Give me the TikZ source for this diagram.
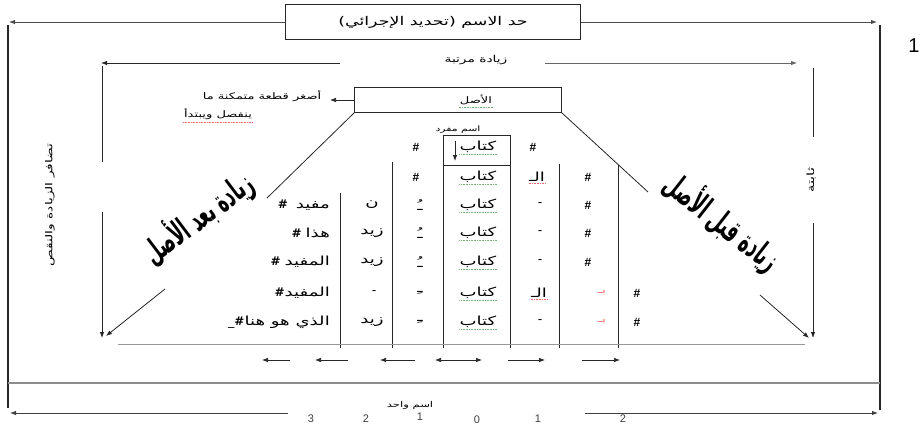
\documentclass[tikz,border=0pt]{standalone}
\usepackage{fontspec}
\setmainfont{Liberation Sans}
\newfontfamily\arabicfont[Script=Arabic]{DejaVu Sans}
\TeXXeTstate=1
\usetikzlibrary{arrows.meta}
\newcommand\AR[1]{\scalebox{1.45}[1]{\arabicfont\beginR #1\endR}}
\newcommand\HS{{\fontsize{12}{12}\selectfont\bfseries\#}}
\tikzset{
  ln/.style={draw=black!85, line width=0.8pt},
  arr/.style={-{Latex[length=6pt,width=4.5pt]}},
  atxt/.style={font=\arabicfont\fontsize{9}{10}\selectfont, inner sep=1pt},
  ctxt/.style={font=\arabicfont\fontsize{12.5}{13}\selectfont, inner sep=0pt},
  hsh/.style={font=\fontsize{12}{12}\selectfont\bfseries, inner sep=0pt},
  num/.style={font=\fontsize{11}{12}\selectfont, text=black!75, inner sep=0pt},
  big/.style={font=\arabicfont\bfseries\fontsize{17}{17}\selectfont, inner sep=0pt},
  redt/.style={font=\arabicfont\fontsize{10}{10}\selectfont, text=red!55, inner sep=0pt},
  gul/.style={append after command={([yshift=-1.2pt]\tikzlastnode.south west) edge[draw=green!45!black!55, densely dotted, line width=0.6pt] ([yshift=-1.2pt]\tikzlastnode.south east)}},
  rul/.style={append after command={([yshift=-1.2pt]\tikzlastnode.south west) edge[draw=red!60, densely dotted, line width=0.6pt] ([yshift=-1.2pt]\tikzlastnode.south east)}}
}
\begin{document}
\begin{tikzpicture}[x=1pt,y=-1pt]
\useasboundingbox (0,0) rectangle (923,431);
\fill[white] (0,0) rectangle (923,431);

% ---- top box and outer frame
\node[draw=black!85, line width=0.8pt, minimum width=295pt, minimum height=35pt, inner sep=0pt,
      font=\arabicfont\fontsize{12}{13}\selectfont] (top) at (433,22)
  {\AR{حد الاسم (تحديد الإجرائي)}};
\coordinate (tl) at (9,22);
\coordinate (tr) at (877,22);
\draw[ln, arr, draw=black!70, line width=1pt] (top.west) -- (tl);
\draw[ln, arr, draw=black!70, line width=1pt] (top.east) -- (tr);
\draw[ln, line width=1.1pt] (8,25) -- (8,408);
\draw[ln, line width=1.1pt] (880,25) -- (880,410);
\node[font=\fontsize{20}{20}\selectfont, inner sep=0pt] (one) at (914,46) {1};

% ---- second level
\node[atxt, font=\arabicfont\fontsize{9.5}{10}\selectfont] (zm) at (476,60) {\AR{زيادة مرتبة}};
\coordinate (zl) at (101,63);
\coordinate (zr) at (797,63);
\draw[ln, arr] (340,63) -- (zl);
\draw[ln, arr, draw=black!60] (545,63) -- (zr);
\draw[ln] (102,66) -- (102,162);
\draw[ln, arr] (102,212) -- (102,338);
\draw[ln] (813,68) -- (813,137);
\draw[ln, arr] (813,223) -- (813,338);
\node[atxt, rotate=90, font=\arabicfont\fontsize{10}{10}\selectfont] (thb) at (811,180) {\AR{ثابتة}};
\node[atxt, rotate=90, font=\arabicfont\fontsize{9.5}{10}\selectfont] (tdf) at (50,205) {\AR{تضافر الزيادة والنقص}};

% ---- asl box
\node[draw=black!85, line width=0.8pt, minimum width=207pt, minimum height=25pt, inner sep=0pt] (asl) at (458,100) {};
\node[atxt, font=\arabicfont\fontsize{9}{10}\selectfont, gul] (asltxt) at (476,100) {\AR{الأصل}};
\coordinate (aslarr) at (330,100);
\draw[ln, arr, line width=0.6pt] (asl.west) -- (aslarr);
\node[atxt] (def1) at (262,96) {\AR{أصغر قطعة متمكنة ما}};
\node[atxt, rul] (def2) at (218,114) {\AR{ينفصل ويبتدأ}};

% diagonals
\draw[ln] (asl.south west) -- (267,198);
\draw[ln, arr] (165,289) -- (106,336);
\draw[ln] (asl.south east) -- (648,192);
\draw[ln, arr] (760,295) -- (809,338);

% big rotated texts
\node[big, rotate=37] (zb) at (198,218) {\scalebox{1.0}[1.9]{\beginR زيادة بعد الأصل\endR}};
\node[big, rotate=-38] (zq) at (722,222) {\scalebox{1.0}[1.9]{\beginR زيادة قبل الأصل\endR}};

% ---- table grid
\draw[ln] (443,135) -- (510,135);
\draw[ln] (443,165) -- (510,165);
\draw[ln] (443,135) -- (443,348);
\draw[ln] (510,135) -- (510,348);
\draw[ln] (340,193) -- (340,348);
\draw[ln] (392,162) -- (392,348);
\draw[ln] (559,164) -- (559,348);
\draw[ln] (618,165) -- (618,348);
\draw[draw=black!40, line width=0.7pt] (118,344) -- (805,344);
\node[font=\arabicfont\fontsize{7.5}{8}\selectfont, inner sep=0pt] (mfrd) at (458,130) {\AR{اسم مفرد}};
\draw[ln, arr, line width=0.8pt] (455,141) -- (455,161);

% row y positions: A147 B177 C205 D233 E262 F293 G322
\foreach \y in {147,177,205,233,262,293,322} {
  \node[ctxt, gul] at (478,\y) {\AR{كتاب}};
}
\node[hsh] at (416,147) {\#};
\node[hsh] at (533,147) {\#};
\node[hsh] at (416,177) {\#};
\node[ctxt, rul] at (537,177) {\AR{الـ}};
\foreach \y in {177,205,233,262} { \node[hsh] at (588,\y) {\#}; }
\foreach \y in {205,233,262,322} { \node[ctxt] at (540,\y) {-}; }
\node[ctxt, rul] at (539,293) {\AR{الـ}};
\node[redt] at (602,293) {\AR{بـ}};
\node[redt] at (602,322) {\AR{بـ}};
\node[hsh] at (637,293) {\#};
\node[hsh] at (637,322) {\#};
\foreach \y in {205,233,262} { \node[ctxt] at (420,\y) {\AR{ـُ}}; }
\foreach \y in {293,322} { \node[ctxt] at (420,\y) {\AR{ـِ}}; }
\node[ctxt] at (372,205) {\AR{ن}};
\node[ctxt] at (372,233) {\AR{زيد}};
\node[ctxt] at (372,262) {\AR{زيد}};
\node[ctxt] at (374,293) {-};
\node[ctxt] at (372,322) {\AR{زيد}};
\node[ctxt, anchor=east] at (330,205) {\HS\ \ \AR{مفيد}};
\node[ctxt, anchor=east] at (330,233) {\HS\ \AR{هذا}};
\node[ctxt, anchor=east] at (330,262) {\HS\ \AR{المفيد}};
\node[ctxt, anchor=east] at (330,293) {\HS\AR{المفيد}};
\node[ctxt, anchor=east] at (330,322) {\_\HS\AR{الذي هو هنا}};

% direction arrows
\foreach \a/\b in {290/262, 348/315, 415/380, 455/435, 455/482, 508/545, 582/620} {
  \draw[ln, arr, line width=0.7pt] (\a,360) -- (\b,360);
}

% bottom band
\draw[draw=black!45, line width=1.6pt] (8,383) -- (880,383);
\coordinate (bl) at (10,413);
\coordinate (br) at (878,413);
\draw[ln, arr, draw=black!75] (288,413) -- (bl);
\draw[ln, arr, draw=black!75] (585,413) -- (br);
\node[num] at (311,419) {3};
\node[num] at (366,419) {2};
\node[num] at (420,417) {1};
\node[num] at (477,420) {0};
\node[num] at (538,419) {1};
\node[num] at (623,419) {2};
\node[font=\arabicfont\fontsize{8}{8}\selectfont, inner sep=0pt] (wahid) at (410,405) {\AR{اسم واحد}};
\end{tikzpicture}
\end{document}
